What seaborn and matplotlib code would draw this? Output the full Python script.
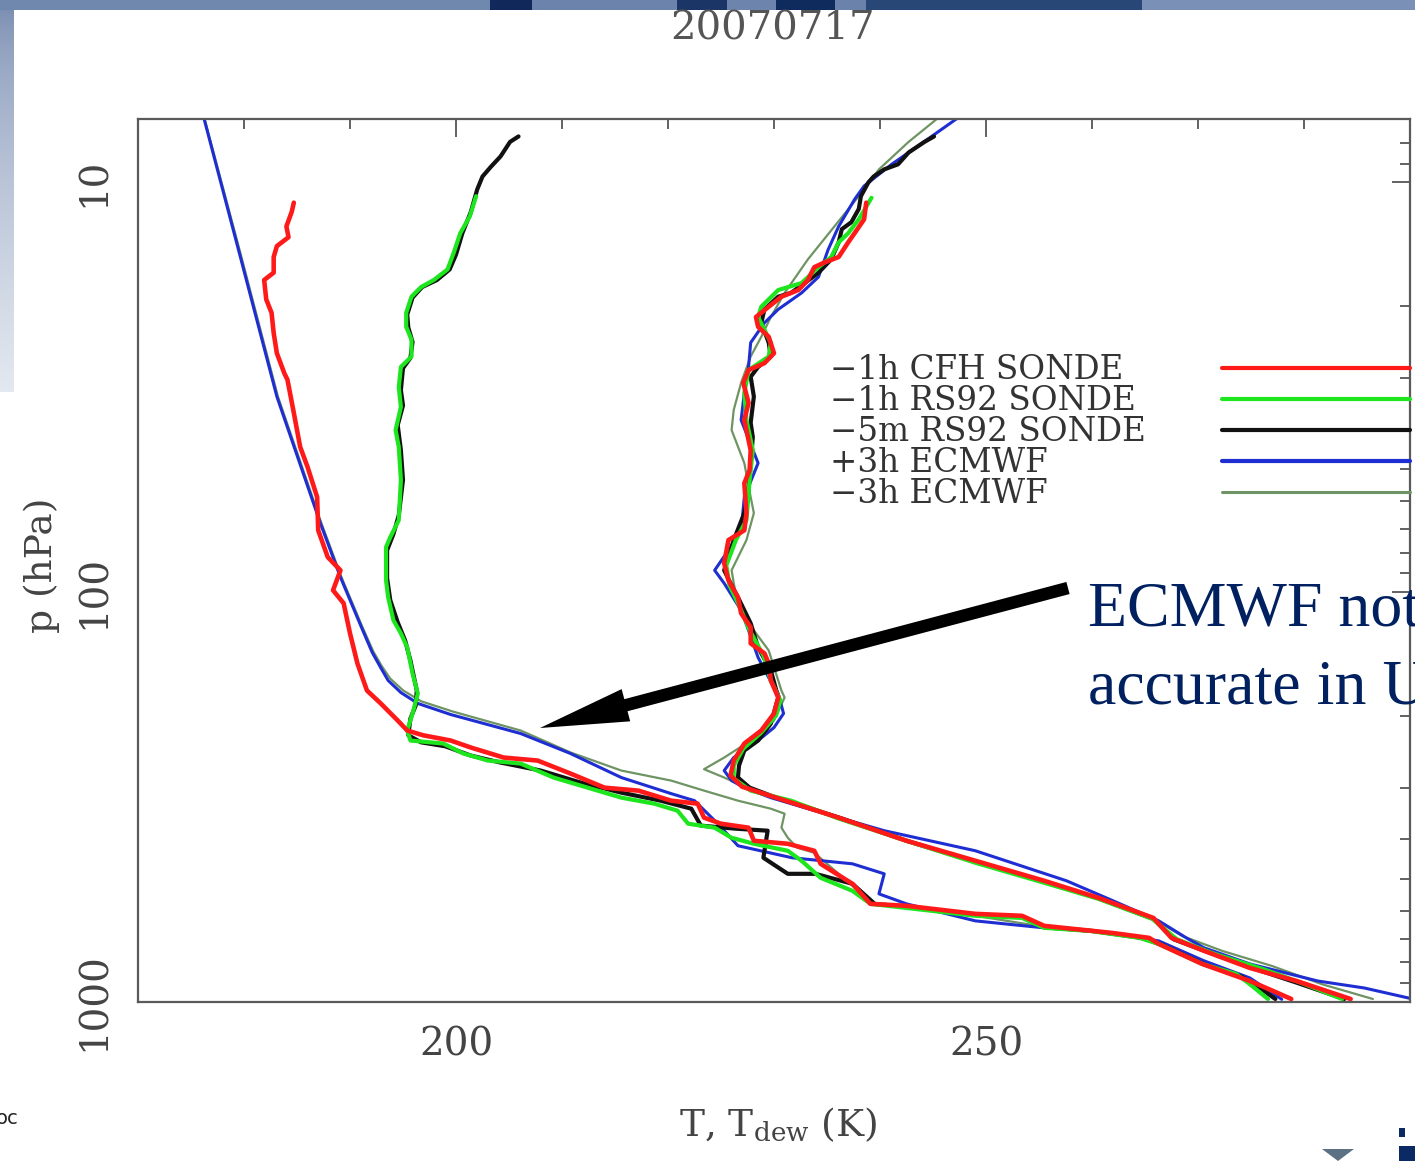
import matplotlib
matplotlib.use("Agg")
import matplotlib.pyplot as plt
import pandas as pd
import numpy as np
import seaborn as sns
from matplotlib.lines import Line2D
from matplotlib.patches import Rectangle, Polygon
from matplotlib.ticker import FixedLocator, NullFormatter, LogLocator, FixedFormatter

sns.set_theme(style="white")
SERIF = ["DejaVu Serif", "Liberation Serif"]
TIMES = ["Liberation Serif", "DejaVu Serif"]
plt.rcParams["font.family"] = SERIF
plt.rcParams["mathtext.fontset"] = "dejavuserif"

# ---------------------------------------------------------------
# Sounding 2007-07-17: temperature (T) and dew/frost point (Td), K vs hPa
# ---------------------------------------------------------------
cfh_t = [238.7, 238.5, 237.6, 237.0, 236.1, 234.7, 233.8, 233.2, 232.3, 230.7,
         229.5, 228.3, 228.5, 229.5, 230.0, 229.1, 227.6, 227.1, 227.6, 227.2,
         227.8, 227.7, 227.2, 227.4, 227.2, 225.7, 225.3, 225.7, 226.6, 226.9,
         227.8, 227.8, 229.1, 229.5, 229.7, 230.4, 230.0, 228.8, 227.2, 226.2,
         225.9, 227.0, 229.6, 236.1, 242.5, 249.0, 255.5, 260.6, 265.8, 267.5,
         270.6, 274.9, 279.3, 284.4]
cfh_t_p = [11.2, 12.3, 13.3, 14.0, 15.2, 15.7, 16.1, 17.3, 18.3, 19.0,
           20.1, 21.3, 22.5, 23.8, 26.1, 27.6, 28.7, 30.8, 34.5, 38.0,
           45.0, 50.3, 54.2, 64.1, 70.6, 74.6, 85.0, 93.5, 102.9, 112.6,
           121.8, 133.3, 141.0, 149.2, 164.2, 180.7, 197.7, 217.5, 234.0, 257.5,
           280.1, 298.3, 313.6, 354.9, 404.1, 452.2, 506.1, 556.8, 623.6, 697.5,
           750.6, 825.9, 888.7, 983.3]

cfh_td = [184.7, 184.5, 184.0, 184.2, 183.1, 182.8, 182.8, 181.9, 182.1, 182.6,
          182.8, 183.1, 183.8, 184.1, 184.7, 185.3, 186.0, 186.9, 187.0, 187.9,
          189.1, 188.4, 189.4, 190.0, 190.7, 191.6, 192.9, 194.5, 195.4, 196.9,
          199.5, 201.4, 204.5, 207.7, 210.8, 214.0, 217.2, 220.3, 222.8, 223.4,
          225.0, 227.6, 228.1, 231.3, 233.8, 234.4, 237.4, 239.1, 242.5, 249.0,
          253.4, 255.5, 262.0, 265.4, 266.3, 270.4, 274.9, 277.1, 278.8]
cfh_td_p = [11.2, 11.8, 12.8, 13.6, 14.3, 15.2, 16.6, 17.3, 19.3, 20.8,
            23.3, 26.1, 29.2, 30.3, 36.5, 44.2, 49.5, 58.6, 70.6, 82.1,
            88.4, 98.9, 106.4, 126.0, 149.2, 173.7, 186.8, 205.6, 217.5, 223.4,
            230.1, 239.3, 253.2, 257.5, 277.0, 299.8, 304.9, 322.6, 328.1, 354.9,
            367.2, 375.5, 404.1, 411.0, 427.5, 460.0, 514.7, 576.1, 582.4, 609.4,
            616.1, 651.9, 678.8, 697.5, 721.6, 807.5, 888.7, 940.2, 983.3]

rs92_1h_t = [239.2, 238.0, 237.0, 236.1, 235.4, 234.2, 232.6, 230.4, 228.8, 228.5,
             229.7, 229.5, 227.6, 227.2, 227.4, 228.0, 227.7, 227.4, 226.4, 225.5,
             225.8, 226.7, 227.7, 229.0, 229.7, 230.6, 230.2, 228.8, 227.1, 226.2,
             226.2, 227.8, 231.6, 236.1, 242.5, 249.0, 255.5, 260.6, 265.7, 268.0,
             271.3, 276.1, 279.8, 283.6]
rs92_1h_t_p = [10.9, 12.3, 13.3, 14.0, 15.2, 16.1, 17.6, 18.3, 20.1, 21.3,
               24.6, 26.6, 28.7, 32.6, 38.0, 45.0, 53.2, 66.7, 74.6, 86.0,
               96.2, 107.6, 123.9, 142.6, 164.2, 183.7, 199.9, 220.0, 240.8, 264.8,
               284.9, 304.9, 322.6, 356.7, 404.1, 457.3, 511.8, 560.0, 627.0, 703.0,
               759.0, 830.6, 898.7, 983.3]

rs92_1h_td = [201.9, 201.3, 200.4, 199.8, 199.2, 197.9, 196.7, 195.8, 195.3, 195.3,
              195.8, 195.8, 194.8, 194.6, 194.8, 194.3, 194.6, 194.8, 194.6, 193.8,
              193.4, 193.4, 193.6, 194.1, 194.8, 195.4, 195.9, 196.4, 195.9, 195.4,
              195.7, 198.8, 200.7, 203.0, 206.1, 209.2, 212.4, 215.6, 218.7, 220.9,
              221.9, 224.4, 226.0, 228.1, 231.3, 232.6, 234.4, 237.4, 239.1, 242.5,
              249.0, 253.4, 255.5, 259.8, 264.5, 266.3, 270.4, 273.6, 274.9, 276.6]
rs92_1h_td_p = [10.8, 12.1, 13.3, 14.8, 16.3, 17.3, 18.0, 19.0, 20.8, 22.5,
                24.2, 26.6, 28.2, 31.6, 35.3, 40.2, 44.2, 53.2, 66.7, 73.4,
                77.6, 93.5, 102.9, 117.1, 126.0, 136.4, 157.9, 176.7, 197.7, 217.5,
                230.1, 234.0, 247.5, 257.5, 261.9, 283.3, 299.8, 317.2, 328.1, 341.3,
                367.2, 375.5, 397.4, 411.0, 427.5, 452.2, 497.7, 535.4, 576.1, 589.5,
                616.1, 623.6, 659.3, 670.6, 697.5, 721.6, 807.5, 854.0, 905.0, 983.3]

rs92_5m_t = [245.1, 244.2, 242.7, 241.7, 240.4, 239.4, 238.9, 238.2, 238.0, 237.3,
             236.4, 236.1, 235.4, 234.2, 232.9, 231.6, 230.4, 229.1, 228.8, 229.5,
             229.7, 228.5, 227.8, 228.1, 227.8, 228.0, 227.8, 227.6, 227.2, 226.2,
             225.3, 226.0, 226.6, 227.8, 228.5, 229.7, 230.4, 229.7, 228.5, 227.2,
             226.7, 226.6, 227.7, 230.2, 236.4, 242.5, 249.0, 255.5, 260.6, 265.8,
             267.7, 270.9, 275.1, 279.4, 283.8]
rs92_5m_t_p = [7.72, 7.96, 8.45, 9.03, 9.29, 9.67, 10.0, 10.8, 11.6, 12.5,
               13.0, 14.0, 15.4, 16.6, 17.6, 18.6, 19.0, 20.4, 22.0, 24.6,
               26.6, 28.2, 29.8, 33.3, 38.6, 41.8, 48.4, 56.3, 64.1, 74.6,
               88.4, 96.2, 102.9, 119.1, 136.4, 155.2, 180.7, 209.2, 230.1, 243.4,
               264.8, 283.3, 299.8, 317.2, 356.7, 404.1, 454.8, 509.0, 558.3, 627.0,
               703.0, 754.8, 825.9, 898.7, 983.3]

rs92_5m_td = [205.9, 205.1, 204.2, 203.3, 202.5, 202.0, 201.4, 200.6, 200.0, 199.4,
              198.2, 196.8, 195.9, 195.4, 195.5, 195.9, 195.7, 195.0, 194.8, 195.0,
              194.5, 194.8, 195.0, 194.6, 194.1, 193.5, 193.5, 193.8, 194.5, 195.2,
              195.7, 196.3, 196.2, 195.7, 195.5, 196.7, 199.0, 201.4, 204.2, 208.0,
              211.8, 215.6, 219.3, 222.2, 223.1, 226.4, 229.4, 229.0, 231.3, 233.9,
              237.4, 239.5, 242.5, 249.0, 253.4, 255.5, 260.0, 264.7, 266.6, 270.7,
              274.0, 275.6, 277.3]
rs92_5m_td_p = [7.72, 7.96, 8.64, 9.15, 9.67, 10.4, 11.8, 13.3, 15.0, 16.3,
                17.3, 18.0, 19.1, 21.0, 22.6, 24.5, 26.8, 28.4, 32.1, 35.0,
                39.1, 45.0, 53.2, 64.9, 72.1, 79.0, 92.4, 104.6, 118.4, 131.1,
                146.7, 173.7, 188.9, 203.3, 223.4, 232.4, 237.7, 250.4, 260.4, 272.4,
                291.6, 308.4, 322.6, 337.5, 371.2, 377.6, 381.9, 444.6, 486.6, 486.6,
                514.7, 576.1, 585.9, 612.7, 619.8, 655.6, 670.6, 697.5, 725.6, 812.0,
                864.3, 915.0, 983.3]

ecmwf_p3_t = [247.4, 244.2, 241.1, 238.5, 237.6, 236.1, 235.1, 234.2, 232.6, 230.4,
              229.1, 227.8, 227.6, 227.2, 226.9, 228.5, 227.2, 226.9, 225.7, 224.4,
              225.3, 226.9, 227.6, 228.5, 229.5, 230.4, 230.9, 230.0, 228.5, 226.2,
              225.3, 226.0, 227.2, 229.7, 234.5, 240.4, 249.0, 257.6, 262.0, 266.3,
              268.9, 270.6, 274.9, 281.3, 285.7, 290.7]
ecmwf_p3_t_p = [6.94, 7.94, 9.03, 10.2, 11.0, 12.8, 14.6, 17.0, 18.6, 20.4,
                22.0, 24.6, 28.2, 32.6, 38.0, 48.4, 58.6, 70.6, 79.0, 88.4,
                95.1, 110.7, 123.9, 144.3, 161.5, 176.7, 197.7, 213.9, 230.1, 253.2,
                272.4, 288.2, 299.8, 317.2, 345.2, 381.9, 427.5, 506.1, 566.4, 633.9,
                697.5, 738.0, 807.5, 888.7, 924.4, 989.0]

ecmwf_p3_td = [176.2, 179.6, 183.1, 187.2, 189.1, 191.0, 192.1, 192.9, 193.6, 194.8,
               196.4, 199.5, 206.1, 210.8, 215.6, 220.3, 222.5, 224.7, 226.6, 231.7,
               237.4, 240.4, 239.9, 242.5, 249.0, 255.5, 262.0, 266.3, 270.6, 274.9,
               277.9]
ecmwf_p3_td_p = [6.94, 15.0, 33.3, 67.8, 91.9, 120.4, 140.3, 152.8, 164.2, 175.7,
                 186.8, 198.8, 221.2, 247.5, 283.3, 310.1, 322.6, 367.2, 415.6, 444.6,
                 460.0, 486.6, 544.6, 576.1, 633.9, 659.3, 678.8, 709.5, 794.0, 873.8,
                 985.0]

ecmwf_m3_t = [245.3, 242.7, 239.9, 238.0, 235.7, 233.2, 231.0, 229.7, 228.8, 227.8,
              226.9, 226.2, 226.0, 227.2, 227.8, 228.1, 227.4, 226.0, 226.4, 227.4,
              229.5, 230.7, 231.0, 230.0, 227.8, 225.3, 223.4, 225.3, 228.1, 231.6,
              236.4, 242.5, 249.0, 255.5, 260.6, 265.7, 268.5, 272.3, 277.0, 281.7,
              286.5]
ecmwf_m3_t_p = [7.02, 7.96, 9.29, 10.8, 12.8, 15.4, 18.6, 21.3, 23.8, 26.6,
                30.8, 35.9, 40.2, 48.4, 58.6, 64.1, 74.6, 88.4, 101.7, 117.1,
                138.7, 173.7, 180.7, 205.6, 230.1, 253.2, 270.3, 283.3, 304.9, 322.6,
                354.9, 404.1, 452.2, 506.1, 556.8, 623.6, 690.0, 750.6, 817.0, 905.0,
                983.3]

ecmwf_m3_td = [176.3, 179.7, 183.2, 187.3, 189.2, 191.1, 192.2, 193.0, 193.8, 195.0,
               196.7, 199.7, 206.1, 210.8, 215.6, 220.3, 223.4, 226.6, 229.7, 231.0,
               230.7, 231.3, 232.2, 233.8, 237.4, 239.2, 242.5, 249.0, 255.5, 262.0,
               266.3, 270.4, 274.9, 277.2]
ecmwf_m3_td_p = [7.02, 15.0, 33.3, 67.8, 91.9, 120.4, 139.5, 151.5, 162.5, 173.5,
                 184.5, 195.5, 217.5, 246.0, 272.4, 288.2, 304.9, 322.6, 337.5, 347.1,
                 375.5, 397.4, 420.3, 432.3, 520.3, 576.1, 582.4, 616.1, 655.6, 678.8,
                 717.5, 803.5, 888.7, 983.3]

series_labels = ["\u22121h CFH SONDE", "\u22121h RS92 SONDE", "\u22125m RS92 SONDE",
                 "+3h ECMWF", "\u22123h ECMWF"]
series_colors = ["#ff1a1a", "#1ee61e", "#111111", "#1e2ed2", "#6f9463"]
series_widths = [3.3, 3.0, 3.0, 2.2, 1.6]
legend_widths = [3.0, 3.0, 3.0, 3.0, 2.2]

profiles = {
    series_labels[0]: [("T", cfh_t, cfh_t_p), ("Td", cfh_td, cfh_td_p)],
    series_labels[1]: [("T", rs92_1h_t, rs92_1h_t_p), ("Td", rs92_1h_td, rs92_1h_td_p)],
    series_labels[2]: [("T", rs92_5m_t, rs92_5m_t_p), ("Td", rs92_5m_td, rs92_5m_td_p)],
    series_labels[3]: [("T", ecmwf_p3_t, ecmwf_p3_t_p), ("Td", ecmwf_p3_td, ecmwf_p3_td_p)],
    series_labels[4]: [("T", ecmwf_m3_t, ecmwf_m3_t_p), ("Td", ecmwf_m3_td, ecmwf_m3_td_p)],
}

rows = []
for name, parts in profiles.items():
    for kind, temps, pres in parts:
        assert len(temps) == len(pres), (name, kind)
        for t, p in zip(temps, pres):
            rows.append({"series": name, "kind": kind, "T": t, "p": p})
df = pd.DataFrame(rows)

W, H = 1415, 1161
fig = plt.figure(figsize=(W / 100, H / 100), dpi=100)
fig.patch.set_facecolor("white")

# slide background pieces around the chart
bg = fig.add_axes([0, 0, 1, 1], zorder=-10)
bg.set_xlim(0, W)
bg.set_ylim(H, 0)
bg.axis("off")
strip = np.linspace(0, 1, 64)[:, None, None]
top_c = np.array([0.45, 0.53, 0.68])
bot_c = np.array([0.89, 0.91, 0.94])
grad = (1 - strip ** 0.6) * top_c + strip ** 0.6 * bot_c
bg.imshow(grad, extent=(0, 14, 392, 0), aspect="auto", interpolation="bilinear")
band = [(0, 490, "#7087ae"), (490, 532, "#10295a"), (532, 677, "#6c84ac"),
        (677, 727, "#1b3566"), (727, 776, "#6d85ad"), (776, 835, "#0f2a5c"),
        (835, 866, "#6b83ab"), (866, 1142, "#284777"), (1142, W, "#7a90b6")]
for x0, x1, c in band:
    bg.add_patch(Rectangle((x0, 0), x1 - x0, 10, color=c, lw=0))
bg.add_patch(Polygon([(1322, 1149), (1354, 1149), (1338, 1161)], closed=True,
                     color="#5d7185", lw=0))
bg.add_patch(Rectangle((1399, 1128), 6, 9, color="#0b2a63", lw=0))
bg.add_patch(Rectangle((1399, 1146), 16, 15, color="#0b2a63", lw=0))

ax = fig.add_axes([138 / W, 1 - 1002 / H, 1272 / W, 883 / H])
ax.set_facecolor("white")

draw_order = [4, 3, 2, 1, 0]
for i in draw_order:
    name = series_labels[i]
    sub = df[df["series"] == name]
    sns.lineplot(data=sub, x="T", y="p", units="kind", estimator=None, sort=False,
                 color=series_colors[i], linewidth=series_widths[i], ax=ax,
                 legend=False, solid_joinstyle="round", solid_capstyle="round")

ax.set_yscale("log")
ax.set_xlim(170, 290)
ax.set_ylim(1000, 7)

ax.xaxis.set_major_locator(FixedLocator([200, 250]))
ax.xaxis.set_minor_locator(FixedLocator(list(range(170, 291, 10))))
ax.xaxis.set_major_formatter(FixedFormatter(["200", "250"]))
ax.yaxis.set_major_locator(FixedLocator([10, 100, 1000]))
ax.yaxis.set_major_formatter(FixedFormatter(["10", "100", "1000"]))
ax.yaxis.set_minor_locator(LogLocator(base=10, subs=range(2, 10)))
ax.yaxis.set_minor_formatter(NullFormatter())

ax.tick_params(which="both", direction="in", top=True, right=True,
               color="#555555", width=1.3, labelsize=28, labelcolor="#444444", pad=18)
ax.tick_params(which="major", length=13)
ax.tick_params(which="minor", length=7)
ax.tick_params(axis="y", labelrotation=90)
for lab in ax.get_yticklabels():
    lab.set_va("center")

for s in ax.spines.values():
    s.set_color("#5a5a5a")
    s.set_linewidth(1.6)

ax.set_xlabel(r"T, T$_{\rm dew}$ (K)", fontsize=27, color="#444444")
ax.set_ylabel("p (hPa)", fontsize=27, color="#444444")
ax.xaxis.set_label_coords(0.503, -0.118)
ax.yaxis.set_label_coords(-0.061, 0.495)

# legend: labels in the first column, line keys in the second
fs = 23.5
fs_px = fs * 100 / 72
hl = 188 / fs_px
htp = 0.5
invisible = [Line2D([], [], lw=0, color="none") for _ in range(5)]
keys = [Line2D([], [], color=series_colors[i], lw=legend_widths[i]) for i in range(5)]
left_px = 830 - (hl + htp) * fs_px
widest = 316
colsp = (1222 - (830 + widest)) / fs_px
leg = ax.legend(invisible + keys, series_labels + [""] * 5, ncol=2, loc="upper left",
                bbox_to_anchor=((left_px - 138) / 1272, (1002 - 354) / 883),
                frameon=False, handlelength=hl, handletextpad=htp,
                columnspacing=colsp, labelspacing=-0.03, borderpad=0, borderaxespad=0,
                prop={"family": SERIF, "size": fs}, labelcolor="#333333")

fig.text(773 / W, 1 - 39 / H, "20070717", ha="center", va="baseline",
         fontsize=29, color="#555555", family=SERIF)

fig.text(1088 / W, 1 - 625 / H, "ECMWF not", ha="left", va="baseline",
         fontsize=46, color="#002060", family=TIMES)
fig.text(1088 / W, 1 - 703 / H, "accurate in U", ha="left", va="baseline",
         fontsize=46, color="#002060", family=TIMES)
ax.annotate("", xy=(540 / W, 1 - 728 / H), xycoords="figure fraction",
            xytext=(1068 / W, 1 - 588 / H), textcoords="figure fraction",
            arrowprops=dict(arrowstyle="simple,head_length=64,head_width=24,tail_width=9",
                            mutation_scale=1, fc="black", ec="none",
                            shrinkA=0, shrinkB=0),
            annotation_clip=False, zorder=20)

fig.text(-4 / W, 1 - 1118 / H, "oc", ha="left", va="center", fontsize=14,
         color="#222222", family=["DejaVu Sans"])

fig.savefig("out.png", dpi=100, facecolor="white")
